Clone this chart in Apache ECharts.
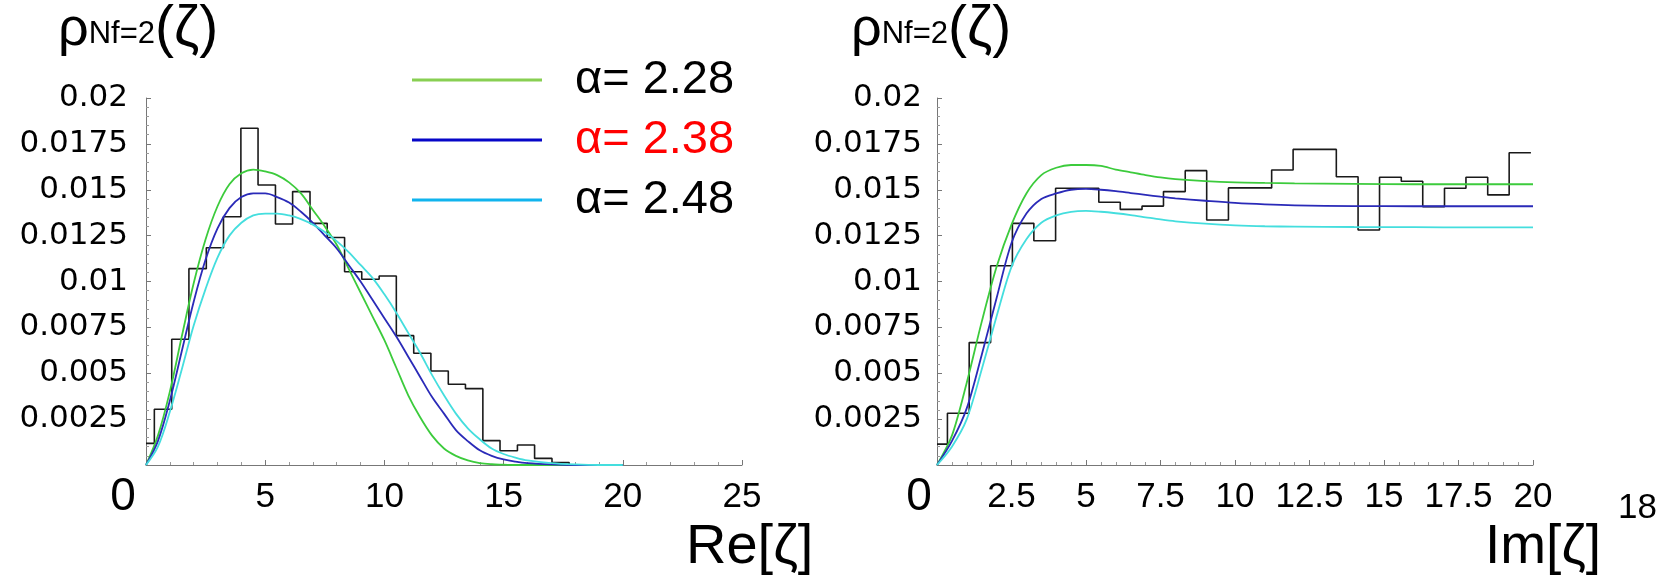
<!DOCTYPE html>
<html>
<head>
<meta charset="utf-8">
<script src="https://cdn.jsdelivr.net/npm/echarts@6/dist/echarts.min.js"></script>
<style>
html,body{margin:0;padding:0;background:#fff;}
#c{width:1666px;height:581px;}
</style>
</head>
<body>
<div id="c"></div>
<script>
// ---------- data ----------
const legendNames = ['α= 2.28', 'α= 2.38', 'α= 2.48'];

// Re[zeta] histogram: bin edges and heights
const reEdges = [0, 0.35, 1.08, 1.80, 2.53, 3.25, 3.98, 4.70, 5.43, 6.15, 6.88, 7.60, 8.33, 9.05, 9.78, 10.50, 11.23, 11.95, 12.68, 13.40, 14.13, 14.85, 15.58, 16.30, 17.03, 17.75];
const reHist = [0.00118, 0.00304, 0.00685, 0.0107, 0.01184, 0.01353, 0.01835, 0.01526, 0.01313, 0.0149, 0.01317, 0.0124, 0.01053, 0.01012, 0.0103, 0.00705, 0.00609, 0.00512, 0.0044, 0.00416, 0.00133, 0.00078, 0.00109, 0.00036, 0.00013];

// Im[zeta] histogram
const imEdges = [0, 0.35, 1.08, 1.80, 2.53, 3.25, 3.98, 4.70, 5.43, 6.15, 6.88, 7.60, 8.33, 9.05, 9.78, 10.50, 11.23, 11.95, 12.68, 13.40, 14.13, 14.85, 15.58, 16.30, 17.03, 17.75, 18.48, 19.20, 19.93];
const imHist = [0.00114, 0.00282, 0.00667, 0.01086, 0.01317, 0.01222, 0.01508, 0.01508, 0.01432, 0.01393, 0.01411, 0.0149, 0.01604, 0.01335, 0.0151, 0.0151, 0.01608, 0.0172, 0.0172, 0.01571, 0.01281, 0.01568, 0.01546, 0.01408, 0.01508, 0.01568, 0.01472, 0.01702];

// Re[zeta] theory curves
const reCurveX = [0, 0.5, 1, 1.5, 2, 2.5, 3, 3.5, 4, 4.5, 5, 5.5, 6, 6.5, 7, 7.5, 8, 8.5, 9, 9.5, 10, 10.5, 11, 11.5, 12, 12.5, 13, 13.5, 14, 14.5, 15, 15.5, 16, 17, 18, 19, 20];
const reGreen = [0, 0.0016, 0.0040, 0.0070, 0.0099, 0.0123, 0.0141, 0.0153, 0.0159, 0.0161, 0.0160, 0.0158, 0.0154, 0.0148, 0.0139, 0.0130, 0.0120, 0.0107, 0.0094, 0.0081, 0.0068, 0.0053, 0.0038, 0.0026, 0.0016, 0.0009, 0.0005, 0.00025, 0.0001, 0.00004, 0.00002, 0, 0, 0, 0, 0, 0];
const reBlue = [0, 0.0013, 0.0035, 0.0062, 0.0089, 0.0112, 0.0129, 0.0140, 0.0146, 0.0148, 0.0148, 0.0146, 0.0143, 0.0138, 0.0132, 0.0125, 0.0118, 0.0109, 0.0100, 0.0090, 0.0080, 0.0070, 0.0059, 0.0048, 0.0037, 0.0028, 0.0019, 0.0013, 0.0008, 0.0005, 0.0003, 0.00018, 0.0001, 0.00003, 0, 0, 0];
const reCyan = [0, 0.0010, 0.0029, 0.0052, 0.0076, 0.0096, 0.0113, 0.0125, 0.0132, 0.0136, 0.0137, 0.0137, 0.0136, 0.0134, 0.0131, 0.0127, 0.0122, 0.0116, 0.0109, 0.0102, 0.0093, 0.0083, 0.0072, 0.0061, 0.0049, 0.0038, 0.0028, 0.0020, 0.0014, 0.0009, 0.0006, 0.0004, 0.00025, 0.0001, 0.00003, 0, 0];

// Im[zeta] theory curves
const imCurveX = [0, 0.5, 1, 1.5, 2, 2.5, 3, 3.5, 4, 4.5, 5, 5.5, 6, 6.5, 7, 7.5, 8, 9, 10, 11, 12, 14, 16, 18, 20];
const imGreen = [0, 0.0016, 0.0045, 0.0078, 0.0108, 0.0131, 0.0148, 0.0158, 0.0162, 0.01635, 0.01635, 0.0163, 0.0161, 0.01595, 0.0158, 0.01567, 0.01558, 0.01547, 0.0154, 0.01537, 0.01535, 0.01532, 0.0153, 0.0153, 0.0153];
const imBlue = [0, 0.0013, 0.0031, 0.0060, 0.0091, 0.0121, 0.0137, 0.0145, 0.0148, 0.0150, 0.01505, 0.0150, 0.01492, 0.01482, 0.01472, 0.01462, 0.01453, 0.0144, 0.01428, 0.0142, 0.01415, 0.01411, 0.0141, 0.0141, 0.0141];
const imCyan = [0, 0.0010, 0.0025, 0.0052, 0.0081, 0.0108, 0.0123, 0.0132, 0.0136, 0.0138, 0.01385, 0.0138, 0.01372, 0.01362, 0.0135, 0.01338, 0.01328, 0.01315, 0.01306, 0.01301, 0.01299, 0.01297, 0.01296, 0.01295, 0.01295];

// ---------- build ----------
const FONT = 'Liberation Sans, Arial, sans-serif';
const WIDE = 'DejaVu Sans, sans-serif';
const plotColors = ['#3ccb3c', '#2a2ab8', '#44dede'];
const legendColors = ['#88cf52', '#0606c8', '#10b4ee'];

function histData(edges, h, dropAtEnd) {
  const d = [];
  for (let i = 0; i < h.length; i++) d.push([edges[i], h[i]]);
  d.push([edges[h.length], dropAtEnd ? 0 : h[h.length - 1]]);
  return d;
}
function curve(xs, ys) { return xs.map((x, i) => [x, ys[i]]); }

function xAxisDef(grid, max, interval, zeroPad) {
  return {
    type: 'value', gridIndex: grid, min: 0, max: max, interval: interval,
    axisLine: { show: true, onZero: false, lineStyle: { color: '#777', width: 1 } },
    axisTick: { show: true, inside: true, length: 5, lineStyle: { color: '#777' } },
    minorTick: { show: true, splitNumber: 5, length: 3, lineStyle: { color: '#999' } },
    splitLine: { show: false },
    axisLabel: {
      show: true, margin: 15, color: '#000', fontSize: 35, fontFamily: FONT,
      showMinLabel: true, showMaxLabel: true,
      formatter: v => v === 0 ? '{z|0}' : String(v),
      rich: { z: { fontSize: 46, fontFamily: FONT, color: '#000', padding: [-6, zeroPad, 0, 0] } }
    }
  };
}
function yAxisDef(grid, margin) {
  return {
    type: 'value', gridIndex: grid, min: 0, max: 0.02, interval: 0.0025,
    axisLine: { show: true, onZero: false, lineStyle: { color: '#777', width: 1 } },
    axisTick: { show: true, inside: true, length: 5, lineStyle: { color: '#777' } },
    minorTick: { show: true, splitNumber: 5, length: 3, lineStyle: { color: '#999' } },
    splitLine: { show: false },
    axisLabel: {
      show: true, margin: margin, color: '#000', fontSize: 31, fontFamily: WIDE,
      formatter: v => v === 0 ? '' : String(+v.toFixed(4))
    }
  };
}

const series = [];
series.push({ type: 'line', name: 'histRe', xAxisIndex: 0, yAxisIndex: 0, step: 'end', symbol: 'none',
  lineStyle: { color: '#1a1a1a', width: 1.6 }, data: histData(reEdges, reHist, true), z: 2, silent: true });
series.push({ type: 'line', name: 'histIm', xAxisIndex: 1, yAxisIndex: 1, step: 'end', symbol: 'none',
  lineStyle: { color: '#1a1a1a', width: 1.6 }, data: histData(imEdges, imHist, false), z: 2, silent: true });
const reCurves = [reGreen, reBlue, reCyan];
const imCurves = [imGreen, imBlue, imCyan];
for (let k = 0; k < 3; k++) {
  series.push({ type: 'line', name: legendNames[k], xAxisIndex: 0, yAxisIndex: 0, symbol: 'none',
    smooth: 0.35, color: plotColors[k],
    lineStyle: { color: plotColors[k], width: 1.8 }, data: curve(reCurveX, reCurves[k]), z: 3 });
  series.push({ type: 'line', name: legendNames[k], xAxisIndex: 1, yAxisIndex: 1, symbol: 'none',
    smooth: 0.3, color: plotColors[k],
    lineStyle: { color: plotColors[k], width: 1.8 }, data: curve(imCurveX, imCurves[k]), z: 3 });
}

const titleRich = {
  r: { fontSize: 54, fontFamily: FONT, color: '#000' },
  z: { fontSize: 57, fontFamily: FONT, color: '#000' },
  s: { fontSize: 31, fontFamily: FONT, color: '#000', padding: [7, 0, 0, 0] }
};

const option = {
  backgroundColor: '#fff',
  animation: false,
  grid: [
    { left: 146, top: 98, width: 596, height: 367, containLabel: false },
    { left: 937, top: 98, width: 596, height: 367, containLabel: false }
  ],
  xAxis: [xAxisDef(0, 25, 5, 46), xAxisDef(1, 20, 2.5, 36)],
  yAxis: [yAxisDef(0, 18), yAxisDef(1, 15)],
  legend: {
    show: true, orient: 'vertical', left: 407, top: 50,
    icon: 'rect', itemWidth: 130, itemHeight: 3, itemGap: 10, selectedMode: false,
    textStyle: { fontSize: 47, fontFamily: FONT, color: '#000', lineHeight: 50, padding: [0, 0, 0, 28] },
    data: legendNames.map((n, i) => ({
      name: n,
      icon: 'rect',
      itemStyle: { color: legendColors[i] },
      textStyle: { color: i === 1 ? '#ff0000' : '#000' }
    }))
  },
  graphic: [
    { type: 'text', left: 58, top: 2, style: { text: '{r|ρ}{s|Nf=2}{z|(ζ)}', rich: titleRich } },
    { type: 'text', left: 851, top: 2, style: { text: '{r|ρ}{s|Nf=2}{z|(ζ)}', rich: titleRich } },
    { type: 'text', left: 686, top: 520, style: { text: 'Re[ζ]', fontSize: 56, fontFamily: FONT, fill: '#000' } },
    { type: 'text', left: 1485, top: 520, style: { text: 'Im[ζ]', fontSize: 55, fontFamily: FONT, fill: '#000' } },
    { type: 'text', left: 1618, top: 491, style: { text: '18', fontSize: 35, fontFamily: FONT, fill: '#000' } }
  ],
  series: series
};

const chart = echarts.init(document.getElementById('c'), null, { renderer: 'canvas' });
chart.setOption(option);
</script>
</body>
</html>
